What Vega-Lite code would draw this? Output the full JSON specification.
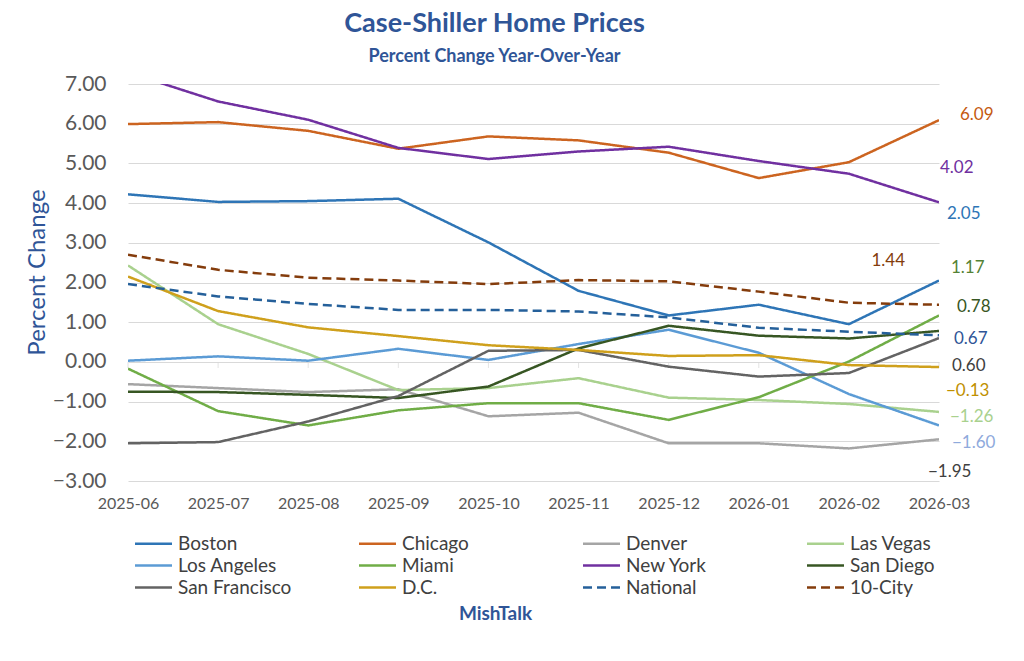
{
  "$schema": "https://vega.github.io/schema/vega-lite/v6.json",
  "width": 811,
  "height": 397,
  "autosize": {"type": "none"},
  "padding": {"left": 128, "top": 84, "right": 85, "bottom": 180},
  "background": "white",
  "config": {
    "font": "Lato",
    "view": {"stroke": null},
    "axis": {"labelFont": "Lato", "titleFont": "Lato"},
    "legend": {"labelFont": "Lato", "titleFont": "Lato"}
  },
  "title": {
    "text": "Case-Shiller Home Prices",
    "subtitle": "Percent Change Year-Over-Year",
    "anchor": "middle",
    "dx": -39,
    "fontSize": 27,
    "fontWeight": "bold",
    "color": "#2F5597",
    "subtitleFontSize": 18,
    "subtitleFontWeight": "bold",
    "subtitleColor": "#2F5597",
    "subtitlePadding": 10,
    "offset": 6
  },
  "data": {
    "values": [
      {"month": "2025-06", "series": "Boston", "value": 4.22},
      {"month": "2025-07", "series": "Boston", "value": 4.03},
      {"month": "2025-08", "series": "Boston", "value": 4.05},
      {"month": "2025-09", "series": "Boston", "value": 4.11},
      {"month": "2025-10", "series": "Boston", "value": 3.01},
      {"month": "2025-11", "series": "Boston", "value": 1.79},
      {"month": "2025-12", "series": "Boston", "value": 1.17},
      {"month": "2026-01", "series": "Boston", "value": 1.44},
      {"month": "2026-02", "series": "Boston", "value": 0.95},
      {"month": "2026-03", "series": "Boston", "value": 2.05},
      {"month": "2025-06", "series": "Chicago", "value": 5.99},
      {"month": "2025-07", "series": "Chicago", "value": 6.04},
      {"month": "2025-08", "series": "Chicago", "value": 5.82},
      {"month": "2025-09", "series": "Chicago", "value": 5.37},
      {"month": "2025-10", "series": "Chicago", "value": 5.68},
      {"month": "2025-11", "series": "Chicago", "value": 5.58},
      {"month": "2025-12", "series": "Chicago", "value": 5.27},
      {"month": "2026-01", "series": "Chicago", "value": 4.63},
      {"month": "2026-02", "series": "Chicago", "value": 5.03},
      {"month": "2026-03", "series": "Chicago", "value": 6.09},
      {"month": "2025-06", "series": "Denver", "value": -0.56},
      {"month": "2025-07", "series": "Denver", "value": -0.66},
      {"month": "2025-08", "series": "Denver", "value": -0.76},
      {"month": "2025-09", "series": "Denver", "value": -0.69},
      {"month": "2025-10", "series": "Denver", "value": -1.37},
      {"month": "2025-11", "series": "Denver", "value": -1.28},
      {"month": "2025-12", "series": "Denver", "value": -2.05},
      {"month": "2026-01", "series": "Denver", "value": -2.05},
      {"month": "2026-02", "series": "Denver", "value": -2.18},
      {"month": "2026-03", "series": "Denver", "value": -1.95},
      {"month": "2025-06", "series": "Las Vegas", "value": 2.43},
      {"month": "2025-07", "series": "Las Vegas", "value": 0.95},
      {"month": "2025-08", "series": "Las Vegas", "value": 0.2},
      {"month": "2025-09", "series": "Las Vegas", "value": -0.71},
      {"month": "2025-10", "series": "Las Vegas", "value": -0.66},
      {"month": "2025-11", "series": "Las Vegas", "value": -0.41},
      {"month": "2025-12", "series": "Las Vegas", "value": -0.9},
      {"month": "2026-01", "series": "Las Vegas", "value": -0.96},
      {"month": "2026-02", "series": "Las Vegas", "value": -1.06},
      {"month": "2026-03", "series": "Las Vegas", "value": -1.26},
      {"month": "2025-06", "series": "Los Angeles", "value": 0.03},
      {"month": "2025-07", "series": "Los Angeles", "value": 0.14},
      {"month": "2025-08", "series": "Los Angeles", "value": 0.03},
      {"month": "2025-09", "series": "Los Angeles", "value": 0.33},
      {"month": "2025-10", "series": "Los Angeles", "value": 0.05},
      {"month": "2025-11", "series": "Los Angeles", "value": 0.45},
      {"month": "2025-12", "series": "Los Angeles", "value": 0.81},
      {"month": "2026-01", "series": "Los Angeles", "value": 0.23},
      {"month": "2026-02", "series": "Los Angeles", "value": -0.81},
      {"month": "2026-03", "series": "Los Angeles", "value": -1.6},
      {"month": "2025-06", "series": "Miami", "value": -0.17},
      {"month": "2025-07", "series": "Miami", "value": -1.24},
      {"month": "2025-08", "series": "Miami", "value": -1.6},
      {"month": "2025-09", "series": "Miami", "value": -1.22},
      {"month": "2025-10", "series": "Miami", "value": -1.04},
      {"month": "2025-11", "series": "Miami", "value": -1.04},
      {"month": "2025-12", "series": "Miami", "value": -1.46},
      {"month": "2026-01", "series": "Miami", "value": -0.89},
      {"month": "2026-02", "series": "Miami", "value": 0.01},
      {"month": "2026-03", "series": "Miami", "value": 1.17},
      {"month": "2025-06", "series": "New York", "value": 7.29},
      {"month": "2025-07", "series": "New York", "value": 6.56},
      {"month": "2025-08", "series": "New York", "value": 6.1},
      {"month": "2025-09", "series": "New York", "value": 5.39},
      {"month": "2025-10", "series": "New York", "value": 5.11},
      {"month": "2025-11", "series": "New York", "value": 5.3},
      {"month": "2025-12", "series": "New York", "value": 5.42},
      {"month": "2026-01", "series": "New York", "value": 5.06},
      {"month": "2026-02", "series": "New York", "value": 4.74},
      {"month": "2026-03", "series": "New York", "value": 4.02},
      {"month": "2025-06", "series": "San Diego", "value": -0.75},
      {"month": "2025-07", "series": "San Diego", "value": -0.76},
      {"month": "2025-08", "series": "San Diego", "value": -0.83},
      {"month": "2025-09", "series": "San Diego", "value": -0.91},
      {"month": "2025-10", "series": "San Diego", "value": -0.62},
      {"month": "2025-11", "series": "San Diego", "value": 0.34},
      {"month": "2025-12", "series": "San Diego", "value": 0.91},
      {"month": "2026-01", "series": "San Diego", "value": 0.66},
      {"month": "2026-02", "series": "San Diego", "value": 0.59},
      {"month": "2026-03", "series": "San Diego", "value": 0.78},
      {"month": "2025-06", "series": "San Francisco", "value": -2.05},
      {"month": "2025-07", "series": "San Francisco", "value": -2.02},
      {"month": "2025-08", "series": "San Francisco", "value": -1.5},
      {"month": "2025-09", "series": "San Francisco", "value": -0.86},
      {"month": "2025-10", "series": "San Francisco", "value": 0.28},
      {"month": "2025-11", "series": "San Francisco", "value": 0.3},
      {"month": "2025-12", "series": "San Francisco", "value": -0.12},
      {"month": "2026-01", "series": "San Francisco", "value": -0.37},
      {"month": "2026-02", "series": "San Francisco", "value": -0.28},
      {"month": "2026-03", "series": "San Francisco", "value": 0.6},
      {"month": "2025-06", "series": "D.C.", "value": 2.15},
      {"month": "2025-07", "series": "D.C.", "value": 1.28},
      {"month": "2025-08", "series": "D.C.", "value": 0.87},
      {"month": "2025-09", "series": "D.C.", "value": 0.65},
      {"month": "2025-10", "series": "D.C.", "value": 0.42},
      {"month": "2025-11", "series": "D.C.", "value": 0.3},
      {"month": "2025-12", "series": "D.C.", "value": 0.15},
      {"month": "2026-01", "series": "D.C.", "value": 0.17},
      {"month": "2026-02", "series": "D.C.", "value": -0.08},
      {"month": "2026-03", "series": "D.C.", "value": -0.13},
      {"month": "2025-06", "series": "National", "value": 1.96},
      {"month": "2025-07", "series": "National", "value": 1.65},
      {"month": "2025-08", "series": "National", "value": 1.46},
      {"month": "2025-09", "series": "National", "value": 1.31},
      {"month": "2025-10", "series": "National", "value": 1.31},
      {"month": "2025-11", "series": "National", "value": 1.27},
      {"month": "2025-12", "series": "National", "value": 1.12},
      {"month": "2026-01", "series": "National", "value": 0.86},
      {"month": "2026-02", "series": "National", "value": 0.76},
      {"month": "2026-03", "series": "National", "value": 0.67},
      {"month": "2025-06", "series": "10-City", "value": 2.7},
      {"month": "2025-07", "series": "10-City", "value": 2.32},
      {"month": "2025-08", "series": "10-City", "value": 2.12},
      {"month": "2025-09", "series": "10-City", "value": 2.05},
      {"month": "2025-10", "series": "10-City", "value": 1.96},
      {"month": "2025-11", "series": "10-City", "value": 2.06},
      {"month": "2025-12", "series": "10-City", "value": 2.03},
      {"month": "2026-01", "series": "10-City", "value": 1.77},
      {"month": "2026-02", "series": "10-City", "value": 1.49},
      {"month": "2026-03", "series": "10-City", "value": 1.44}
    ]
  },
  "encoding": {
    "x": {
      "field": "month",
      "type": "ordinal",
      "scale": {"type": "point", "padding": 0},
      "axis": {
        "title": "MishTalk",
        "titleX": 367,
        "titleY": 132,
        "titleAnchor": "middle",
        "titleAlign": "center",
        "titleBaseline": "middle",
        "titleFontSize": 19,
        "titleFontWeight": "bold",
        "titleColor": "#2F5597",
        "labelAngle": 0,
        "labelFontSize": 16,
        "labelColor": "#595959",
        "labelPadding": 14,
        "ticks": false,
        "domain": false,
        "grid": false
      }
    },
    "y": {
      "field": "value",
      "type": "quantitative",
      "scale": {"domain": [-3, 7], "nice": false, "zero": false},
      "axis": {
        "title": "Percent Change",
        "titleY": 188,
        "titleFontSize": 24,
        "titleFontWeight": "normal",
        "titleColor": "#2F5597",
        "titlePadding": 3,
        "values": [-3, -2, -1, 0, 1, 2, 3, 4, 5, 6, 7],
        "format": ".2f",
        "labelFontSize": 21,
        "labelColor": "#595959",
        "labelPadding": 22,
        "ticks": false,
        "domain": false,
        "gridColor": "#D9D9D9",
        "gridWidth": 1
      }
    }
  },
  "layer": [
    {
      "transform": [{"filter": "datum.series == 'Boston'"}],
      "mark": {"type": "tick", "orient": "vertical", "size": 6, "thickness": 1, "yOffset": 3, "color": "#D9D9D9"},
      "encoding": {"y": {"datum": 0}}
    },
    {
      "mark": {"type": "line", "clip": true, "strokeCap": "butt"},
      "encoding": {
        "color": {
          "field": "series",
          "type": "nominal",
          "scale": {
            "domain": ["Boston", "Chicago", "Denver", "Las Vegas", "Los Angeles", "Miami", "New York", "San Diego", "San Francisco", "D.C.", "National", "10-City"],
            "range": ["#2E75B6", "#CC6420", "#A5A5A5", "#A9D18E", "#5B9BD5", "#70AD47", "#7030A0", "#375623", "#636363", "#CFA01C", "#25609A", "#843C0C"]
          },
          "legend": {
            "title": null,
            "orient": "none",
            "legendX": 15,
            "legendY": 449,
            "direction": "horizontal",
            "columns": 4,
            "gridAlign": "all",
            "columnPadding": 62,
            "rowPadding": 1,
            "symbolType": "M-2,0H2",
            "symbolSize": 342,
            "labelFontSize": 19,
            "labelColor": "#404040",
            "labelOffset": 14
          }
        },
        "strokeDash": {
          "field": "series",
          "type": "nominal",
          "scale": {
            "domain": ["Boston", "Chicago", "Denver", "Las Vegas", "Los Angeles", "Miami", "New York", "San Diego", "San Francisco", "D.C.", "National", "10-City"],
            "range": [[1, 0], [1, 0], [1, 0], [1, 0], [1, 0], [1, 0], [1, 0], [1, 0], [1, 0], [1, 0], [9, 5], [9, 5]]
          },
          "legend": {"title": null}
        },
        "strokeWidth": {
          "field": "series",
          "type": "ordinal",
          "scale": {
            "domain": ["Boston", "Chicago", "Denver", "Las Vegas", "Los Angeles", "Miami", "New York", "San Diego", "San Francisco", "D.C.", "National", "10-City"],
            "range": [2.5, 2.5, 2.5, 2.5, 2.5, 2.5, 2.5, 2.5, 2.5, 2.5, 4, 4]
          },
          "legend": {"title": null}
        }
      }
    },
    {
      "transform": [{"filter": "datum.month == '2026-03' && datum.series == 'Chicago'"}],
      "mark": {"type": "text", "align": "left", "baseline": "middle", "dx": 21, "dy": -5, "fontSize": 17, "color": "#C55A11"},
      "encoding": {"text": {"field": "value", "type": "quantitative", "format": ".2f"}}
    },
    {
      "transform": [{"filter": "datum.month == '2026-03' && datum.series == 'New York'"}],
      "mark": {"type": "text", "align": "left", "baseline": "middle", "dx": 1, "dy": -34, "fontSize": 17, "color": "#7030A0"},
      "encoding": {"text": {"field": "value", "type": "quantitative", "format": ".2f"}}
    },
    {
      "transform": [{"filter": "datum.month == '2026-03' && datum.series == 'Boston'"}],
      "mark": {"type": "text", "align": "left", "baseline": "middle", "dx": 8, "dy": -67, "fontSize": 17, "color": "#2E75B6"},
      "encoding": {"text": {"field": "value", "type": "quantitative", "format": ".2f"}}
    },
    {
      "transform": [{"filter": "datum.month == '2026-03' && datum.series == '10-City'"}],
      "mark": {"type": "text", "align": "right", "baseline": "middle", "dx": -34, "dy": -44, "fontSize": 17, "color": "#843C0C"},
      "encoding": {"text": {"field": "value", "type": "quantitative", "format": ".2f"}}
    },
    {
      "transform": [{"filter": "datum.month == '2026-03' && datum.series == 'Miami'"}],
      "mark": {"type": "text", "align": "left", "baseline": "middle", "dx": 12, "dy": -47, "fontSize": 17, "color": "#548235"},
      "encoding": {"text": {"field": "value", "type": "quantitative", "format": ".2f"}}
    },
    {
      "transform": [{"filter": "datum.month == '2026-03' && datum.series == 'San Diego'"}],
      "mark": {"type": "text", "align": "left", "baseline": "middle", "dx": 18, "dy": -24, "fontSize": 17, "color": "#375623"},
      "encoding": {"text": {"field": "value", "type": "quantitative", "format": ".2f"}}
    },
    {
      "transform": [{"filter": "datum.month == '2026-03' && datum.series == 'National'"}],
      "mark": {"type": "text", "align": "left", "baseline": "middle", "dx": 15, "dy": 4, "fontSize": 17, "color": "#2F5597"},
      "encoding": {"text": {"field": "value", "type": "quantitative", "format": ".2f"}}
    },
    {
      "transform": [{"filter": "datum.month == '2026-03' && datum.series == 'San Francisco'"}],
      "mark": {"type": "text", "align": "left", "baseline": "middle", "dx": 13, "dy": 28, "fontSize": 17, "color": "#404040"},
      "encoding": {"text": {"field": "value", "type": "quantitative", "format": ".2f"}}
    },
    {
      "transform": [{"filter": "datum.month == '2026-03' && datum.series == 'D.C.'"}],
      "mark": {"type": "text", "align": "left", "baseline": "middle", "dx": 7, "dy": 24, "fontSize": 17, "color": "#BF9000"},
      "encoding": {"text": {"field": "value", "type": "quantitative", "format": ".2f"}}
    },
    {
      "transform": [{"filter": "datum.month == '2026-03' && datum.series == 'Las Vegas'"}],
      "mark": {"type": "text", "align": "left", "baseline": "middle", "dx": 11, "dy": 5, "fontSize": 17, "color": "#A9D18E"},
      "encoding": {"text": {"field": "value", "type": "quantitative", "format": ".2f"}}
    },
    {
      "transform": [{"filter": "datum.month == '2026-03' && datum.series == 'Los Angeles'"}],
      "mark": {"type": "text", "align": "left", "baseline": "middle", "dx": 13, "dy": 18, "fontSize": 17, "color": "#8FAADC"},
      "encoding": {"text": {"field": "value", "type": "quantitative", "format": ".2f"}}
    },
    {
      "transform": [{"filter": "datum.month == '2026-03' && datum.series == 'Denver'"}],
      "mark": {"type": "text", "align": "left", "baseline": "middle", "dx": -11, "dy": 33, "fontSize": 17, "color": "#404040"},
      "encoding": {"text": {"field": "value", "type": "quantitative", "format": ".2f"}}
    }
  ]
}
